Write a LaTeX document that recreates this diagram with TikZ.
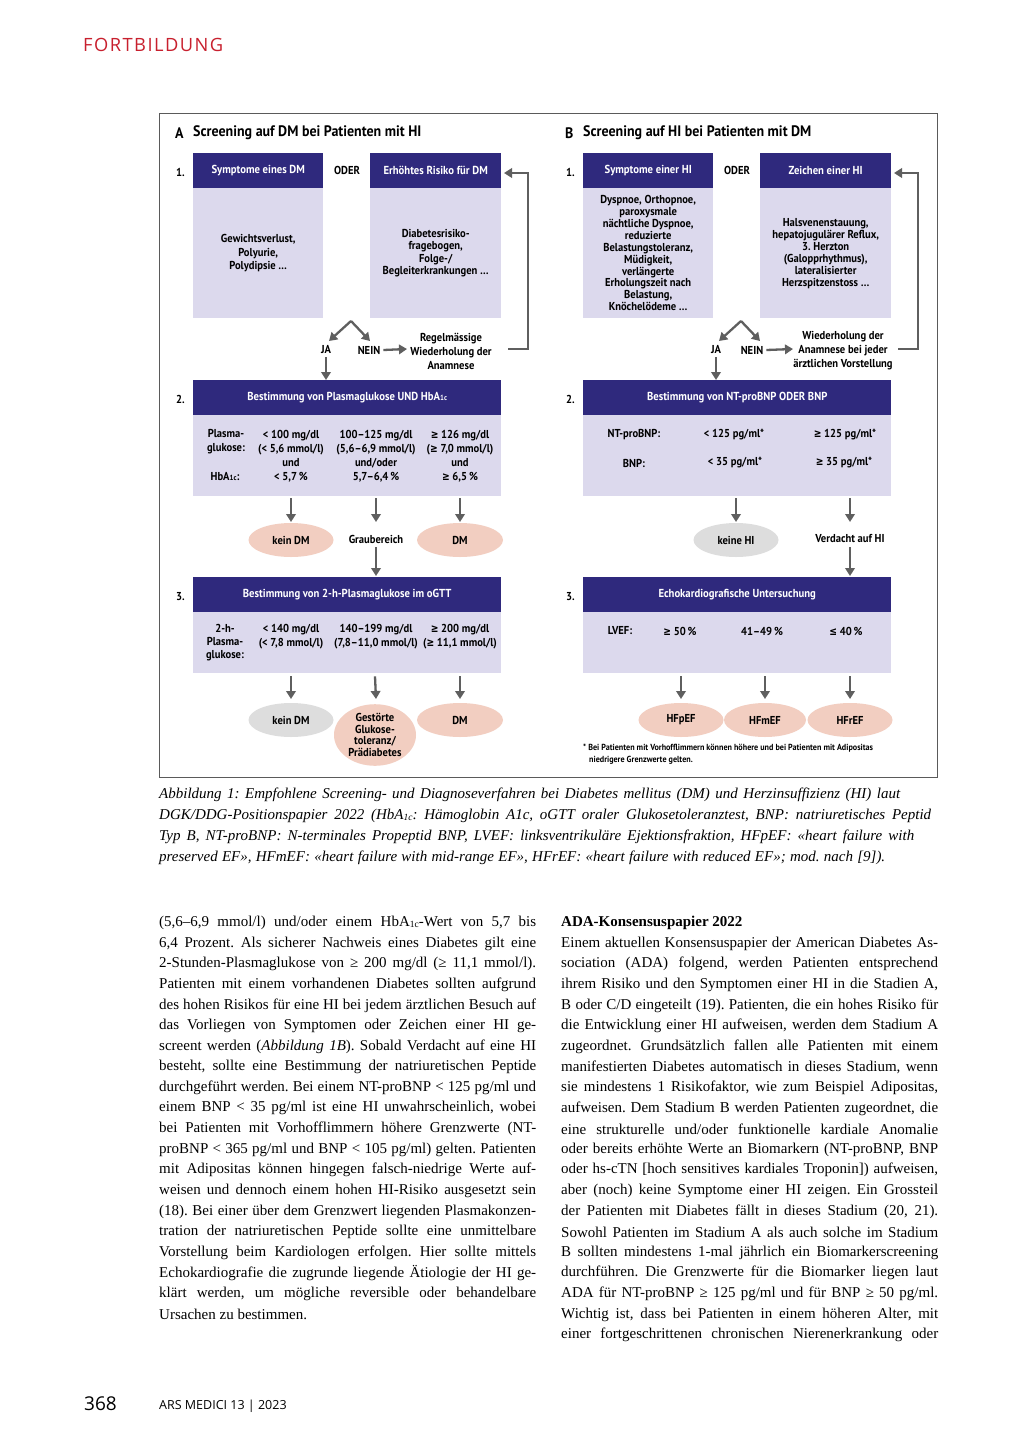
\documentclass[tikz,border=0pt]{standalone}
\usepackage{fontspec}
\setmainfont{Liberation Serif}
\newfontfamily\dsf[FakeStretch=0.92]{PT Sans}
\newfontfamily\dvs[FakeStretch=0.8]{DejaVu Sans}
\newfontfamily\osf{Open Sans}
\newfontfamily\osfl[LetterSpace=8]{Open Sans}
\usetikzlibrary{arrows.meta,shapes.geometric}
\definecolor{navy}{RGB}{47,41,125}
\definecolor{lilac}{RGB}{220,217,237}
\definecolor{pinkc}{RGB}{242,206,193}
\definecolor{grayc}{RGB}{221,221,221}
\definecolor{arrc}{RGB}{95,95,95}
\definecolor{framec}{RGB}{90,90,90}
\definecolor{redc}{RGB}{200,32,46}
\newlength\colw
\setlength\colw{377pt}
\newcommand\subsm[1]{{\fontsize{7.5}{7.5}\selectfont #1}}
\newcommand\txsub[1]{\raisebox{-0.8pt}{\fontsize{9.5}{9.5}\selectfont #1}}
\newcommand\jl[1]{\hbox to \colw{#1}}
\newcommand\dge{{\dvs\bfseries ≥}}
\newcommand\dle{{\dvs\bfseries ≤}}
\frenchspacing
\begin{document}
\begin{tikzpicture}[x=1pt,y=-1pt,
  hdr/.style={fill=navy,text=white,font=\dsf\bfseries\fontsize{11.6}{12}\selectfont,inner sep=0pt,anchor=north west,minimum height=35pt},
  bdy/.style={fill=lilac,text=black,font=\dsf\bfseries\fontsize{11.5}{12.2}\selectfont,align=center,inner sep=0pt,anchor=north west},
  dt/.style={font=\dsf\bfseries\fontsize{11.5}{14}\selectfont,align=center,inner sep=0pt,text=black},
  num/.style={font=\dsf\bfseries\fontsize{11.5}{12}\selectfont,inner sep=0pt,anchor=west},
  ttl/.style={font=\dsf\bfseries\fontsize{15.2}{16}\selectfont,inner sep=0pt,anchor=west},
  arr/.style={draw=arrc,line width=2.3pt,-{Triangle[length=8pt,width=9.5pt]}},
  ell/.style={ellipse,fill=pinkc,minimum width=85pt,minimum height=34pt,inner sep=0pt,font=\dsf\bfseries\fontsize{11.5}{11.7}\selectfont,align=center},
  gell/.style={ell,fill=grayc},
  body/.style={font=\fontsize{15}{20.6}\selectfont,inner sep=0pt,anchor=west},
  capt/.style={font=\itshape\fontsize{15}{20.6}\selectfont,inner sep=0pt,anchor=west}
]
\useasboundingbox[fill=white] (0,0) rectangle (1024,1448);

% page header / footer
\node[font=\osfl\fontsize{18.3}{20}\selectfont,text=redc,inner sep=0pt,anchor=west] (hd) at (83,45) {FORTBILDUNG};
\node[font=\osf\fontsize{19}{20}\selectfont,inner sep=0pt,anchor=west] (pg) at (84,1404) {368};
\node[font=\osf\fontsize{12.5}{14}\selectfont,inner sep=0pt,anchor=west] (mag) at (159,1406) {ARS MEDICI 13 | 2023};

% frame
\draw[framec,line width=0.8pt] (159,113) rectangle (937,777);

% ===================== Panel A =====================
\node[ttl] (tA) at (175,133) {A};
\node[ttl] (tA2) at (193,133) {Screening auf DM bei Patienten mit HI};
\node[num] (nA1) at (176,172) {1.};
\node[hdr,minimum width=130pt] (hA1) at (193,153) {Symptome eines DM};
\node[bdy,minimum width=130pt,minimum height=130pt,font=\dsf\bfseries\fontsize{11.5}{13.8}\selectfont] (bA1) at (193,188) {Gewichtsverlust,\\Polyurie,\\Polydipsie …};
\node[dt] (oA) at (347,170) {ODER};
\node[hdr,minimum width=131pt] (hA2) at (370,153) {Erhöhtes Risiko für DM};
\node[bdy,minimum width=131pt,minimum height=130pt] (bA2) at (370,188) {Diabetesrisiko-\\fragebogen,\\Folge-/\\Begleiterkrankungen …};

\coordinate (apA) at (351,321);
\node[dt] (jaA) at (326,350) {JA};
\node[dt] (neinA) at (369,350) {NEIN};
\draw[arr] (apA) -- (329,341);
\draw[arr] (apA) -- (370,341);
\node[dt] (regA) at (451,351) {Regelmässige\\Wiederholung der\\Anamnese};
\draw[arr] ([xshift=3pt]neinA.east) -- (407,349);
\coordinate (la1) at (508,349);
\coordinate (la2) at (528,173);
\coordinate (la3) at (504,173);
\draw[arr] (la1) -| (la2) -- (la3);

\node[num] (nA2) at (176,399) {2.};
\node[hdr,minimum width=308pt] (hA3) at (193,380) {Bestimmung von Plasmaglukose UND HbA\subsm{1c}};
\node[bdy,minimum width=308pt,minimum height=81pt] (bA3) at (193,415) {};
\draw[arr] ([yshift=-3pt]jaA.south) -- (hA3.north -| jaA);
\node[dt] (pgA) at (226,442) {Plasma-\\glukose:};
\node[dt] (hbA) at (225,477) {HbA\subsm{1c}:};
\node[dt] (c1A) at (291,456) {< 100 mg/dl\\(< 5,6 mmol/l)\\und\\< 5,7\,\%};
\node[dt] (c2A) at (376,456) {100–125 mg/dl\\(5,6–6,9 mmol/l)\\und/oder\\5,7–6,4\,\%};
\node[dt] (c3A) at (460,456) {\dge{} 126 mg/dl\\(\dge{} 7,0 mmol/l)\\und\\\dge{} 6,5\,\%};

\node[ell] (e1A) at (291,540) {kein DM};
\node[dt] (grA) at (376,539) {Graubereich};
\node[ell,minimum width=86pt] (e3A) at (460,540) {DM};
\draw[arr] ([yshift=-2pt]bA3.south -| e1A) -- (291,522);
\draw[arr] ([yshift=-2pt]bA3.south -| grA) -- (376,522);
\draw[arr] ([yshift=-2pt]bA3.south -| e3A) -- (460,522);

\node[num] (nA3) at (176,597) {3.};
\node[hdr,minimum width=308pt] (hA4) at (193,577) {Bestimmung von 2-h-Plasmaglukose im oGTT};
\node[bdy,minimum width=308pt,minimum height=61pt] (bA4) at (193,612) {};
\draw[arr] ([yshift=-4pt]grA.south) -- ([yshift=1pt]hA4.north -| grA);
\node[dt,font=\dsf\bfseries\fontsize{11.5}{13}\selectfont] (pg2A) at (225,643) {2-h-\\Plasma-\\glukose:};
\node[dt] (d1A) at (291,637) {< 140 mg/dl\\(< 7,8 mmol/l)};
\node[dt] (d2A) at (376,637) {140–199 mg/dl\\(7,8–11,0 mmol/l)};
\node[dt] (d3A) at (460,637) {\dge{} 200 mg/dl\\(\dge{} 11,1 mmol/l)};

\node[gell] (f1A) at (291,720) {kein DM};
\node[ell,minimum width=82pt,minimum height=61pt] (f2A) at (375,735) {Gestörte\\Glukose-\\toleranz/\\Prädiabetes};
\node[ell,minimum width=86pt] (f3A) at (460,720) {DM};
\draw[arr] ([yshift=-3pt]bA4.south -| f1A) -- (291,699);
\draw[arr] ([yshift=-3pt]bA4.south -| f2A) -- (376,699);
\draw[arr] ([yshift=-3pt]bA4.south -| f3A) -- (460,699);

% ===================== Panel B =====================
\node[ttl] (tB) at (565,133) {B};
\node[ttl] (tB2) at (583,133) {Screening auf HI bei Patienten mit DM};
\node[num] (nB1) at (566,172) {1.};
\node[hdr,minimum width=130pt] (hB1) at (583,153) {Symptome einer HI};
\node[bdy,minimum width=130pt,minimum height=130pt,font=\dsf\bfseries\fontsize{11.5}{11.9}\selectfont] (bB1) at (583,188) {Dyspnoe, Orthopnoe,\\paroxysmale\\nächtliche Dyspnoe,\\reduzierte\\Belastungstoleranz,\\Müdigkeit,\\verlängerte\\Erholungszeit nach\\Belastung,\\Knöchelödeme …};
\node[dt] (oB) at (737,170) {ODER};
\node[hdr,minimum width=131pt] (hB2) at (760,153) {Zeichen einer HI};
\node[bdy,minimum width=131pt,minimum height=130pt,font=\dsf\bfseries\fontsize{11.5}{12}\selectfont] (bB2) at (760,188) {Halsvenenstauung,\\hepatojugulärer Reflux,\\3. Herzton\\(Galopprhythmus),\\lateralisierter\\Herzspitzenstoss …};

\coordinate (apB) at (741,321);
\node[dt] (jaB) at (716,350) {JA};
\node[dt] (neinB) at (752,350) {NEIN};
\draw[arr] (apB) -- (719,341);
\draw[arr] (apB) -- (760,341);
\node[dt] (regB) at (843,351) {Wiederholung der\\Anamnese bei jeder\\ärztlichen Vorstellung};
\draw[arr] ([xshift=3pt]neinB.east) -- (793,349);
\coordinate (lb1) at (898,349);
\coordinate (lb2) at (918,173);
\coordinate (lb3) at (894,173);
\draw[arr] (lb1) -| (lb2) -- (lb3);

\node[num] (nB2) at (566,399) {2.};
\node[hdr,minimum width=308pt] (hB3) at (583,380) {Bestimmung von NT-proBNP ODER BNP};
\node[bdy,minimum width=308pt,minimum height=81pt] (bB3) at (583,415) {};
\draw[arr] ([yshift=-3pt]jaB.south) -- (hB3.north -| jaB);
\node[dt] (ntB) at (634,435) {NT-proBNP:};
\node[dt] (bnB) at (634,463) {BNP:};
\node[dt] (c1B) at (734,435) {< 125 pg/ml*};
\node[dt] (c2B) at (735,463) {< 35 pg/ml*};
\node[dt] (c3B) at (845,435) {\dge{} 125 pg/ml*};
\node[dt] (c4B) at (844,463) {\dge{} 35 pg/ml*};

\node[gell] (e1B) at (736,540) {keine HI};
\node[dt] (vdB) at (850,539) {Verdacht auf HI};
\draw[arr] ([yshift=-2pt]bB3.south -| e1B) -- (736,522);
\draw[arr] ([yshift=-2pt]bB3.south -| vdB) -- (850,522);

\node[num] (nB3) at (566,597) {3.};
\node[hdr,minimum width=308pt] (hB4) at (583,577) {Echokardiografische Untersuchung};
\node[bdy,minimum width=308pt,minimum height=61pt] (bB4) at (583,612) {};
\draw[arr] ([yshift=-4pt]vdB.south) -- ([yshift=1pt]hB4.north -| vdB);
\node[dt] (lvB) at (620,631) {LVEF:};
\node[dt] (d1B) at (680,631) {\dge{} 50\,\%};
\node[dt] (d2B) at (762,631) {41–49\,\%};
\node[dt] (d3B) at (846,631) {\dle{} 40\,\%};

\node[ell] (f1B) at (681,720) {HFpEF};
\node[ell,minimum width=82pt] (f2B) at (765,720) {HFmEF};
\node[ell] (f3B) at (850,720) {HFrEF};
\draw[arr] ([yshift=-3pt]bB4.south -| f1B) -- (681,699);
\draw[arr] ([yshift=-3pt]bB4.south -| f2B) -- (765,699);
\draw[arr] ([yshift=-3pt]bB4.south -| f3B) -- (850,699);

\node[inner sep=0pt,anchor=west,font=\dsf\bfseries\fontsize{8.8}{9}\selectfont] (fn1) at (583,748) {* Bei Patienten mit Vorhofflimmern können höhere und bei Patienten mit Adipositas};
\node[inner sep=0pt,anchor=west,font=\dsf\bfseries\fontsize{8.8}{9}\selectfont] (fn2) at (589,760) {niedrigere Grenzwerte gelten.};

% ===================== Caption =====================
\node[capt] (cap1) at (159,795) {\hbox to 741pt{Abbildung 1: Empfohlene Screening- und Diagnoseverfahren bei Diabetes mellitus (DM) und Herzinsuffizienz (HI) laut}};
\node[capt] (cap2) at (159,816) {\hbox to 772pt{DGK/DDG-Positionspapier 2022 (HbA\txsub{1c}: Hämoglobin A1c, oGTT oraler Glukosetoleranztest, BNP: natriuretisches Peptid}};
\node[capt] (cap3) at (159,837) {\hbox to 755pt{Typ B, NT-proBNP: N-terminales Propeptid BNP, LVEF: linksventrikuläre Ejektionsfraktion, HFpEF: «heart failure with}};
\node[capt] (cap4) at (159,858) {\hbox to 726pt{preserved EF», HFmEF: «heart failure with mid-range EF», HFrEF: «heart failure with reduced EF»; mod. nach [9]).}};

% ===================== Left column =====================
\node[body] (l1) at (159,923.0) {\jl{(5,6–6,9 mmol/l) und/oder einem HbA\txsub{1c}-Wert von 5,7 bis}};
\node[body] (l2) at (159,943.6) {\jl{6,4 Prozent. Als sicherer Nachweis eines Diabetes gilt eine}};
\node[body] (l3) at (159,964.2) {\jl{2-Stunden-Plasmaglukose von ≥ 200 mg/dl (≥ 11,1 mmol/l).}};
\node[body] (l4) at (159,984.8) {\jl{Patienten mit einem vorhandenen Diabetes sollten aufgrund}};
\node[body] (l5) at (159,1005.4) {\jl{des hohen Risikos für eine HI bei jedem ärztlichen Besuch auf}};
\node[body] (l6) at (159,1026.0) {\jl{das Vorliegen von Symptomen oder Zeichen einer HI ge-}};
\node[body] (l7) at (159,1046.6) {\jl{screent werden (\textit{Abbildung 1B}). Sobald Verdacht auf eine HI}};
\node[body] (l8) at (159,1067.2) {\jl{besteht, sollte eine Bestimmung der natriuretischen Peptide}};
\node[body] (l9) at (159,1087.8) {\jl{durchgeführt werden. Bei einem NT-proBNP < 125 pg/ml und}};
\node[body] (l10) at (159,1108.4) {\jl{einem BNP < 35 pg/ml ist eine HI unwahrscheinlich, wobei}};
\node[body] (l11) at (159,1129.0) {\jl{bei Patienten mit Vorhofflimmern höhere Grenzwerte (NT-}};
\node[body] (l12) at (159,1149.6) {\jl{proBNP < 365 pg/ml und BNP < 105 pg/ml) gelten. Patienten}};
\node[body] (l13) at (159,1170.2) {\jl{mit Adipositas können hingegen falsch-niedrige Werte auf-}};
\node[body] (l14) at (159,1190.8) {\jl{weisen und dennoch einem hohen HI-Risiko ausgesetzt sein}};
\node[body] (l15) at (159,1211.4) {\jl{(18). Bei einer über dem Grenzwert liegenden Plasmakonzen-}};
\node[body] (l16) at (159,1232.0) {\jl{tration der natriuretischen Peptide sollte eine unmittelbare}};
\node[body] (l17) at (159,1252.6) {\jl{Vorstellung beim Kardiologen erfolgen. Hier sollte mittels}};
\node[body] (l18) at (159,1273.2) {\jl{Echokardiografie die zugrunde liegende Ätiologie der HI ge-}};
\node[body] (l19) at (159,1293.8) {\jl{klärt werden, um mögliche reversible oder behandelbare}};
\node[body] (l20) at (159,1314.4) {Ursachen zu bestimmen.};

% ===================== Right column =====================
\node[body] (r0) at (561,923.0) {\textbf{ADA-Konsensuspapier 2022}};
\node[body] (r1) at (561,943.6) {\jl{Einem aktuellen Konsensuspapier der American Diabetes As-}};
\node[body] (r2) at (561,964.2) {\jl{sociation (ADA) folgend, werden Patienten entsprechend}};
\node[body] (r3) at (561,984.8) {\jl{ihrem Risiko und den Symptomen einer HI in die Stadien A,}};
\node[body] (r4) at (561,1005.4) {\jl{B oder C/D eingeteilt (19). Patienten, die ein hohes Risiko für}};
\node[body] (r5) at (561,1026.0) {\jl{die Entwicklung einer HI aufweisen, werden dem Stadium A}};
\node[body] (r6) at (561,1046.6) {\jl{zugeordnet. Grundsätzlich fallen alle Patienten mit einem}};
\node[body] (r7) at (561,1067.2) {\jl{manifestierten Diabetes automatisch in dieses Stadium, wenn}};
\node[body] (r8) at (561,1087.8) {\jl{sie mindestens 1 Risikofaktor, wie zum Beispiel Adipositas,}};
\node[body] (r9) at (561,1108.4) {\jl{aufweisen. Dem Stadium B werden Patienten zugeordnet, die}};
\node[body] (r10) at (561,1129.0) {\jl{eine strukturelle und/oder funktionelle kardiale Anomalie}};
\node[body] (r11) at (561,1149.6) {\jl{oder bereits erhöhte Werte an Biomarkern (NT-proBNP, BNP}};
\node[body] (r12) at (561,1170.2) {\jl{oder hs-cTN [hoch sensitives kardiales Troponin]) aufweisen,}};
\node[body] (r13) at (561,1190.8) {\jl{aber (noch) keine Symptome einer HI zeigen. Ein Grossteil}};
\node[body] (r14) at (561,1211.4) {\jl{der Patienten mit Diabetes fällt in dieses Stadium (20, 21).}};
\node[body] (r15) at (561,1232.0) {\jl{Sowohl Patienten im Stadium A als auch solche im Stadium}};
\node[body] (r16) at (561,1252.6) {\jl{B sollten mindestens 1-mal jährlich ein Biomarkerscreening}};
\node[body] (r17) at (561,1273.2) {\jl{durchführen. Die Grenzwerte für die Biomarker liegen laut}};
\node[body] (r18) at (561,1293.8) {\jl{ADA für NT-proBNP ≥ 125 pg/ml und für BNP ≥ 50 pg/ml.}};
\node[body] (r19) at (561,1314.4) {\jl{Wichtig ist, dass bei Patienten in einem höheren Alter, mit}};
\node[body] (r20) at (561,1335.0) {\jl{einer fortgeschrittenen chronischen Nierenerkrankung oder}};
\end{tikzpicture}
\end{document}
